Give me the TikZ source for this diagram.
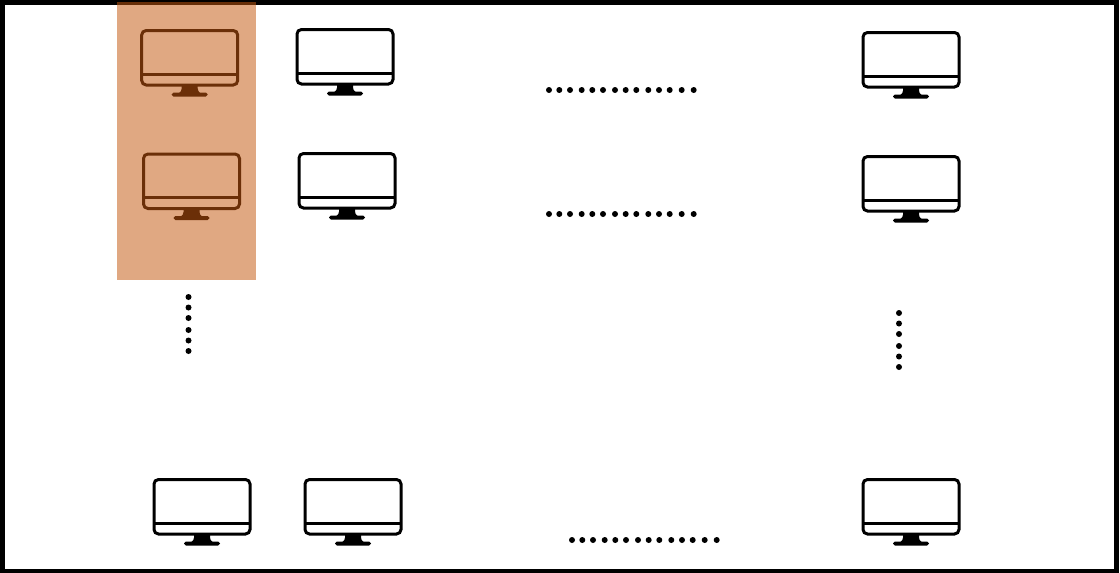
\documentclass[tikz,border=0pt]{standalone}
\definecolor{hilite}{HTML}{C55A11}
\definecolor{monbrown}{HTML}{6B2F08}
\tikzset{
  x=1pt,y=-1pt,
  frame/.style={draw=black,line width=5pt},
  bandbox/.style={fill=hilite,fill opacity=.52,draw=none},
  dotmark/.style={circle,fill=black,inner sep=0pt,minimum size=6pt},
  pics/monitor/.style={code={
    \draw[draw=#1,line width=3pt,rounded corners=4.5pt] (1,1) rectangle (97,55.5);
    \draw[draw=#1,line width=2.8pt] (1,44.7) -- (97,44.7);
    \fill[fill=#1] (41,55) -- (57,55) -- (57,59) .. controls (57,61) and (58,62.5) .. (60,64) -- (38,64) .. controls (40,62.5) and (41,61) .. (41,59) -- cycle;
    \fill[fill=#1,rounded corners=1.8pt] (31,63) rectangle (67,67);
  }}
}
\begin{document}
\begin{tikzpicture}
\useasboundingbox (0,0) rectangle (1120,573);
\fill[white] (0,0) rectangle (1120,573);
\draw[frame] (2.5,2.5) rectangle (1116.5,571);
\fill[bandbox] (117,2) rectangle (256,280);
\foreach \nm/\px/\py/\c in {a/140.7/29.5/monbrown,b/296/28.5/black,c/862/31.5/black,
  d/142.5/153/monbrown,e/298/152.5/black,f/862/155.5/black,
  g/153/478.5/black,h/304/478.5/black,i/862/478.5/black}
  \pic (\nm) at (\px,\py) {monitor=\c};
\foreach \ox/\oy/\nm in {0/90/r,0/214/s,23/540/t}
  \foreach \dx [count=\k] in {549,559.3,570,581.7,592.3,603,615,625.7,636.3,648.3,659,669.7,681.7,693.7}
    \node[dotmark] (\nm\k) at (\dx+\ox,\oy) {};
\foreach \y [count=\k] in {297,307.5,318,330,340.5,351}
  \node[dotmark] (u\k) at (188.5,\y) {};
\foreach \y [count=\k] in {313,323.5,334,346,356.5,367}
  \node[dotmark] (v\k) at (899,\y) {};
\end{tikzpicture}
\end{document}
